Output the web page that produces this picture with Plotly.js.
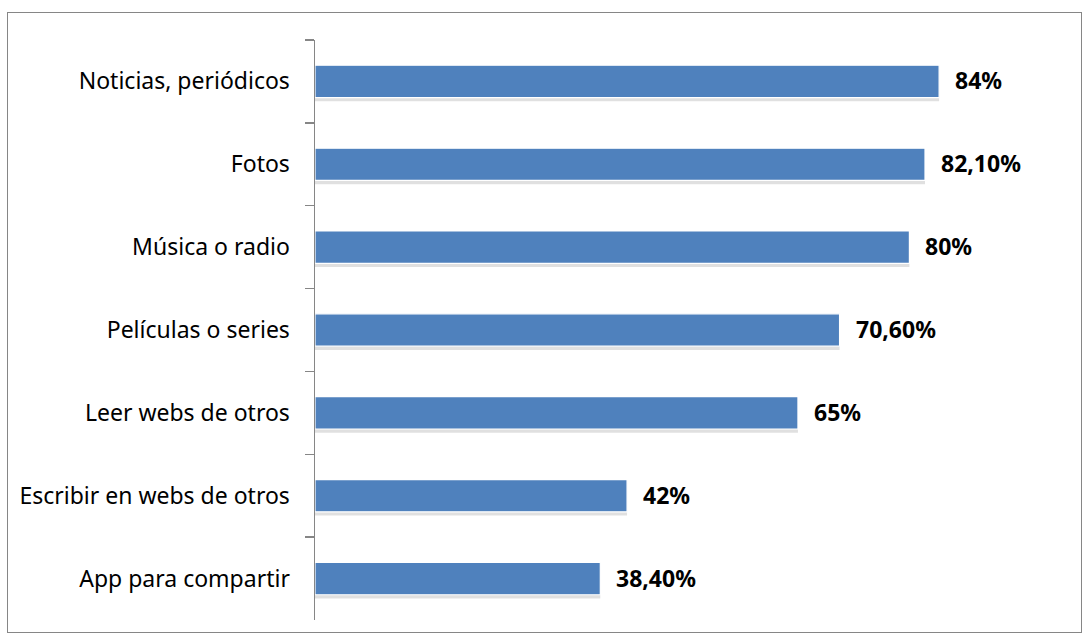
<!DOCTYPE html>
<html>
<head>
<meta charset="utf-8">
<script src="https://cdn.plot.ly/plotly-3.0.1.min.js"></script>
<style>
html,body{margin:0;padding:0;background:#fff;}
#frame{position:absolute;left:7px;top:12px;width:1075px;height:621px;border:1.5px solid #868686;box-sizing:border-box;}
#chart{position:absolute;left:0;top:0;width:1091px;height:641px;}
</style>
</head>
<body>
<div id="frame"></div>
<div id="chart"></div>
<script>
const categories = ["Noticias, periódicos","Fotos","Música o radio","Películas o series","Leer webs de otros","Escribir en webs de otros","App para compartir"];
const values = [84, 82.1, 80, 70.6, 65, 42, 38.4];
const valueLabels = ["84%","82,10%","80%","70,60%","65%","42%","38,40%"];

const shadow = {
  type:'bar', orientation:'h', x: values, y: categories,
  width: 0.39, offset: -0.15,
  marker:{color:'rgba(0,0,0,0.12)', line:{width:0}},
  hoverinfo:'skip', showlegend:false
};
const bars = {
  type:'bar', orientation:'h', x: values, y: categories,
  width: 0.39,
  marker:{color:'#4F81BD', line:{color:'#ffffff', width:1.2}},
  showlegend:false
};

const annotations = categories.map((c,i)=>({
  x: values[i], y: c, xref:'x', yref:'y',
  text: '<b>'+valueLabels[i]+'</b>', showarrow:false,
  xanchor:'left', xshift: 14, yshift: 1,
  font:{family:'Noto Sans, Open Sans, sans-serif', size:23, color:'#000'}
}));

const layout = {
  width:1091, height:641,
  margin:{l:315, r:33, t:40, b:21},
  paper_bgcolor:'rgba(0,0,0,0)', plot_bgcolor:'rgba(0,0,0,0)',
  barmode:'overlay',
  xaxis:{range:[0,100], visible:false, fixedrange:true},
  yaxis:{
    type:'category', autorange:'reversed',
    showline:true, linecolor:'#868686', linewidth:1.5,
    ticks:'outside', tickson:'boundaries', ticklen:9, tickcolor:'#868686', tickwidth:1.5,
    ticklabelstandoff:19,
    showgrid:false, zeroline:false,
    tickfont:{family:'Noto Sans, Open Sans, sans-serif', size:23, color:'#000'}
  },
  annotations: annotations
};
Plotly.newPlot('chart', [shadow, bars], layout, {displayModeBar:false, staticPlot:true});
</script>
</body>
</html>
